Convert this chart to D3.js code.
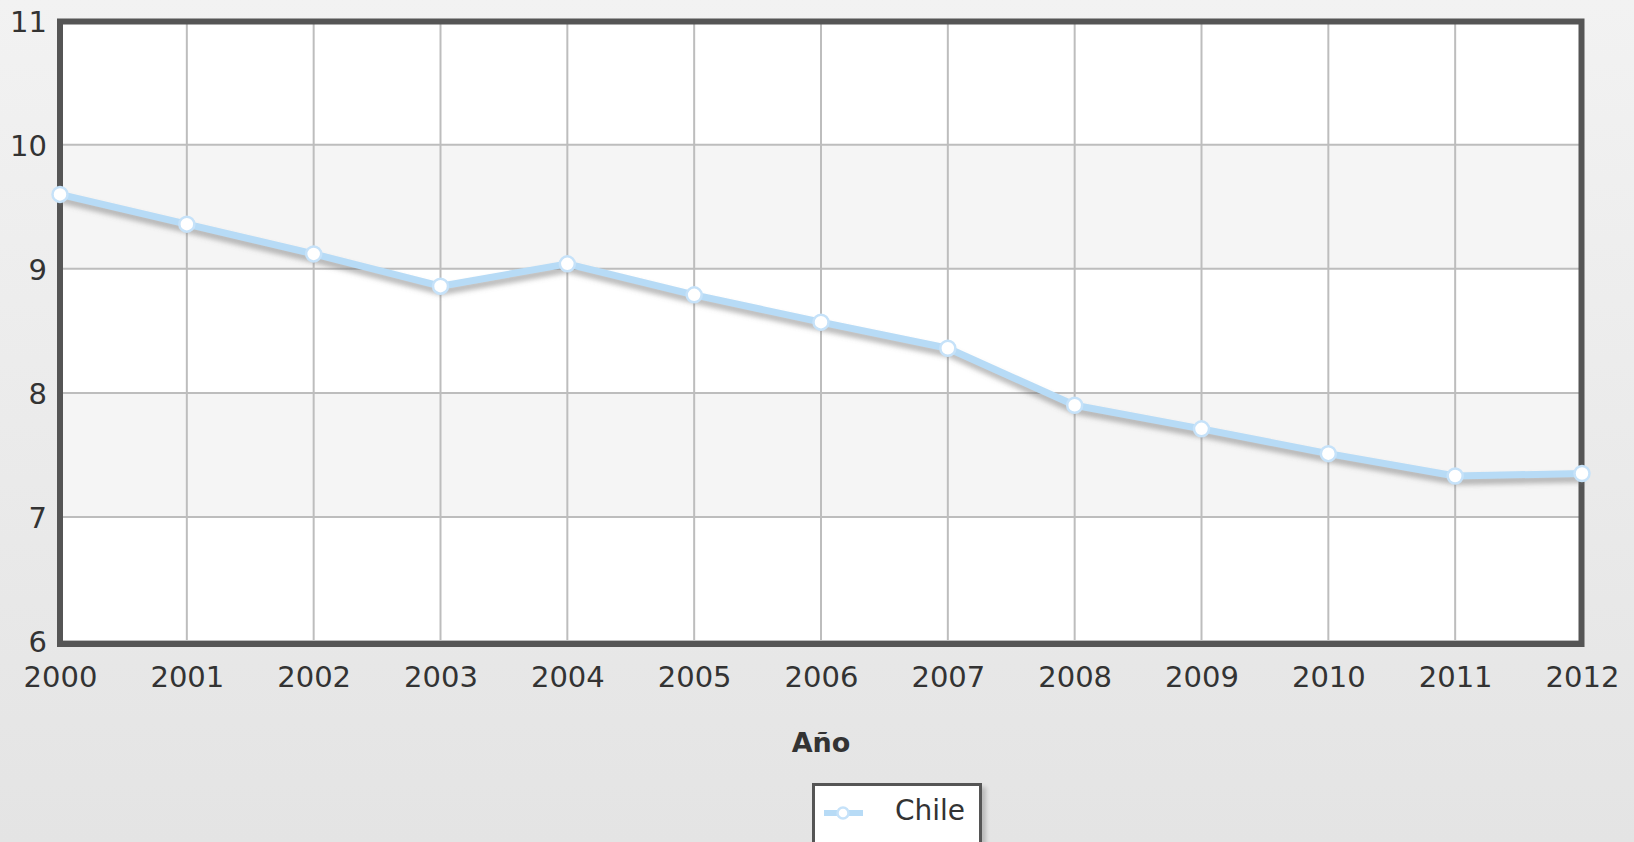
<!DOCTYPE html>
<html><head><meta charset="utf-8">
<script src="https://cdn.jsdelivr.net/npm/d3@7"></script>
<style>html,body{margin:0;padding:0;overflow:hidden;}svg{display:block;}</style>
</head><body>
<script>
const years = [2000,2001,2002,2003,2004,2005,2006,2007,2008,2009,2010,2011,2012];
const chileValues = [9.60,9.36,9.12,8.86,9.04,8.79,8.57,8.36,7.90,7.71,7.51,7.33,7.35];
const yTicks = [6,7,8,9,10,11];
const seriesName = "Chile";
const xTitle = "Año";

const W = 1634, H = 842;
const svg = d3.select("body").append("svg").attr("width", W).attr("height", H);
const defs = svg.append("defs");
const bg = defs.append("linearGradient").attr("id","bg").attr("x1",0).attr("y1",0).attr("x2",0).attr("y2",1);
bg.append("stop").attr("offset","0%").attr("stop-color","#f2f2f2");
bg.append("stop").attr("offset","100%").attr("stop-color","#e4e4e4");
const blur = defs.append("filter").attr("id","blur").attr("x","-10%").attr("y","-50%").attr("width","120%").attr("height","200%");
blur.append("feGaussianBlur").attr("stdDeviation",2.5);
const lshadow = defs.append("filter").attr("id","lshadow").attr("x","-20%").attr("y","-20%").attr("width","150%").attr("height","150%");
lshadow.append("feGaussianBlur").attr("stdDeviation",2);

svg.append("rect").attr("width",W).attr("height",H).attr("fill","url(#bg)");

const x = d3.scaleLinear().domain([2000,2012]).range([60,1582]);
const y = d3.scaleLinear().domain([6,11]).range([641,20.7]);

// alternating bands
for (let i=0;i<yTicks.length-1;i++){
  svg.append("rect").attr("x",x(2000)).attr("width",x(2012)-x(2000))
    .attr("y",y(yTicks[i+1])).attr("height",y(yTicks[i])-y(yTicks[i+1]))
    .attr("fill", i%2===1 ? "#f5f5f5" : "#ffffff");
}
// grid
svg.append("g").selectAll("line").data(yTicks).join("line")
  .attr("x1",x(2000)).attr("x2",x(2012)).attr("y1",d=>y(d)).attr("y2",d=>y(d))
  .attr("stroke","#bdbdbd").attr("stroke-width",2);
svg.append("g").selectAll("line").data(years).join("line")
  .attr("x1",d=>x(d)).attr("x2",d=>x(d)).attr("y1",y(11)).attr("y2",y(6))
  .attr("stroke","#bdbdbd").attr("stroke-width",2);

// frame
svg.append("rect").attr("x",60).attr("y",21.5).attr("width",1521.5).attr("height",622.5)
  .attr("fill","none").attr("stroke","#555").attr("stroke-width",6);

// axes labels
const font = "'DejaVu Sans', sans-serif";
const yAxis = d3.axisLeft(y).tickValues(yTicks).tickSize(0).tickPadding(0).tickFormat(d3.format("d"));
const gy = svg.append("g").attr("transform","translate(47,0)").call(yAxis);
gy.select(".domain").remove();
gy.selectAll("text").attr("font-family",font).attr("font-size",29).attr("fill","#333").attr("dy","0.36em").attr("dx",0);

const xAxis = d3.axisBottom(x).tickValues(years).tickSize(0).tickPadding(0).tickFormat(d3.format("d"));
const gx = svg.append("g").attr("transform","translate(0,666)").call(xAxis);
gx.select(".domain").remove();
gx.selectAll("text").attr("font-family",font).attr("font-size",29).attr("fill","#333").attr("dy","0.72em");

svg.append("text").attr("x",(x(2000)+x(2012))/2).attr("y",752).attr("text-anchor","middle")
  .attr("font-family",font).attr("font-size",27).attr("font-weight","bold").attr("fill","#333").text(xTitle);

// line
const data = years.map((yr,i)=>({yr, v: chileValues[i]}));
const line = d3.line().x(d=>x(d.yr)).y(d=>y(d.v));
svg.append("path").datum(data).attr("d",line).attr("transform","translate(1,5)")
  .attr("fill","none").attr("stroke","#777").attr("stroke-opacity",0.5).attr("stroke-width",8).attr("filter","url(#blur)");
svg.append("path").datum(data).attr("d",line)
  .attr("fill","none").attr("stroke","#b7dbf6").attr("stroke-width",7).attr("stroke-linejoin","round");
svg.append("g").selectAll("circle").data(data).join("circle")
  .attr("cx",d=>x(d.yr)).attr("cy",d=>y(d.v)).attr("r",7.5)
  .attr("fill","#ffffff").attr("stroke","#c6e2f9").attr("stroke-width",2.5);

// legend
const lg = svg.append("g");
lg.append("rect").attr("x",816).attr("y",787).attr("width",170).attr("height",70)
  .attr("fill","#000").attr("opacity",0.18).attr("filter","url(#lshadow)");
lg.append("rect").attr("x",813.5).attr("y",784.5).attr("width",167).attr("height",70)
  .attr("fill","#fff").attr("stroke","#555").attr("stroke-width",3);
lg.append("line").attr("x1",824).attr("x2",863).attr("y1",813).attr("y2",813)
  .attr("stroke","#b7dbf6").attr("stroke-width",6);
lg.append("circle").attr("cx",843).attr("cy",813).attr("r",5.5)
  .attr("fill","#fff").attr("stroke","#c6e2f9").attr("stroke-width",2.5);
lg.append("text").attr("x",895).attr("y",820).attr("font-family",font).attr("font-size",28).attr("fill","#333").text(seriesName);
</script>
</body></html>
